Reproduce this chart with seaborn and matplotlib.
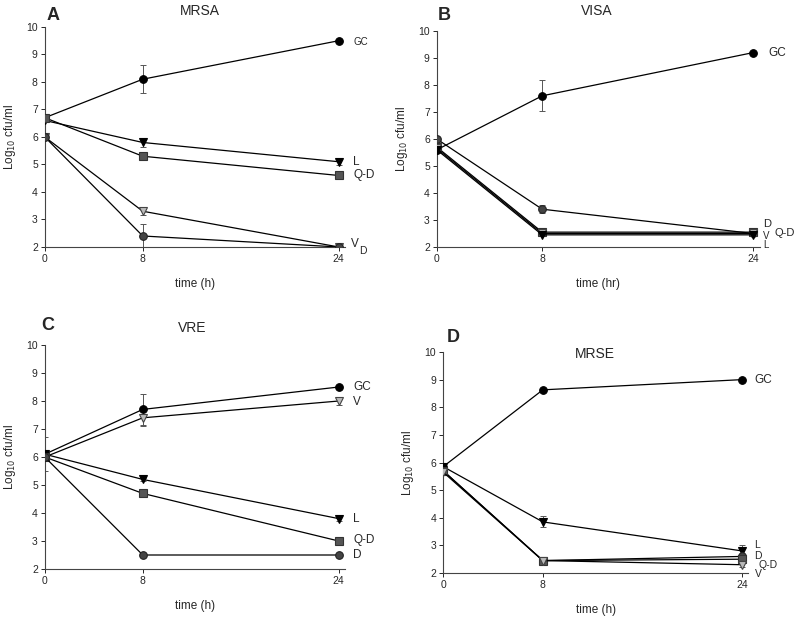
import matplotlib
matplotlib.use("Agg")
import matplotlib.pyplot as plt
import seaborn as sns
import pandas as pd

sns.set_theme(style="ticks")
plt.rcParams['font.family'] = ['Liberation Sans', 'DejaVu Sans']

times = [0, 8, 24]

# Panel A - MRSA
mrsa_gc = [6.7, 8.1, 9.5];   mrsa_gc_err = [0, 0.5, 0.05]
mrsa_l = [6.6, 5.8, 5.1];    mrsa_l_err = [0, 0.15, 0.12]
mrsa_qd = [6.7, 5.3, 4.6];   mrsa_qd_err = [0, 0.08, 0.05]
mrsa_v = [6.0, 3.3, 2.0];    mrsa_v_err = [0, 0.15, 0.03]
mrsa_d = [6.0, 2.4, 2.0];    mrsa_d_err = [0, 0.42, 0.03]

# Panel B - VISA
visa_gc = [5.6, 7.6, 9.2];   visa_gc_err = [0, 0.57, 0.03]
visa_d = [6.0, 3.4, 2.5];    visa_d_err = [0, 0.15, 0.05]
visa_qd = [5.7, 2.55, 2.55]; visa_qd_err = [0, 0.05, 0.05]
visa_v = [5.65, 2.5, 2.5];   visa_v_err = [0, 0.03, 0.03]
visa_l = [5.6, 2.45, 2.45];  visa_l_err = [0, 0.03, 0.05]

# Panel C - VRE
vre_gc = [6.1, 7.7, 8.5];    vre_gc_err = [0.6, 0.55, 0.08]
vre_v = [6.0, 7.4, 8.0];     vre_v_err = [0, 0.3, 0.15]
vre_l = [6.1, 5.2, 3.8];     vre_l_err = [0, 0.05, 0.1]
vre_qd = [6.0, 4.7, 3.0];    vre_qd_err = [0, 0.1, 0.08]
vre_d = [6.0, 2.5, 2.5];     vre_d_err = [0, 0.03, 0.03]

# Panel D - MRSE
mrse_gc = [5.85, 8.63, 9.0]; mrse_gc_err = [0, 0.03, 0.03]
mrse_l = [5.85, 3.85, 2.8];  mrse_l_err = [0, 0.2, 0.22]
mrse_d = [5.7, 2.45, 2.6];   mrse_d_err = [0, 0.05, 0.05]
mrse_qd = [5.7, 2.45, 2.5];  mrse_qd_err = [0, 0.05, 0.05]
mrse_v = [5.65, 2.45, 2.3];  mrse_v_err = [0, 0.03, 0.1]

yticks = [2, 3, 4, 5, 6, 7, 8, 9, 10]
xticks = [0, 8, 24]

styles = {
    'GC': dict(marker='o', mfc='black', mec='black'),
    'L': dict(marker='v', mfc='black', mec='black'),
    'Q-D': dict(marker='s', mfc='#555555', mec='#333333'),
    'V': dict(marker='v', mfc='#bbbbbb', mec='#444444'),
    'D': dict(marker='o', mfc='#444444', mec='#222222'),
}

fig = plt.figure(figsize=(8, 6.17), dpi=100)

panels = [
    dict(letter='A', title='MRSA', rect=[0.056, 0.5997, 0.375, 0.3566], xlabel='time (h)',
         series=[('GC', mrsa_gc, mrsa_gc_err), ('L', mrsa_l, mrsa_l_err), ('Q-D', mrsa_qd, mrsa_qd_err),
                 ('V', mrsa_v, mrsa_v_err), ('D', mrsa_d, mrsa_d_err)],
         labels=[('GC', 25.2, 9.45, 7), ('L', 25.2, 5.1, 8.5), ('Q-D', 25.2, 4.6, 8.5),
                 ('V', 25.0, 2.1, 8.5), ('D', 25.7, 1.85, 7.5)],
         letter_xy=(53, 15), title_xy=(200, 11)),
    dict(letter='B', title='VISA', rect=[0.546, 0.5997, 0.4035, 0.350], xlabel='time (hr)',
         series=[('GC', visa_gc, visa_gc_err), ('D', visa_d, visa_d_err), ('Q-D', visa_qd, visa_qd_err),
                 ('V', visa_v, visa_v_err), ('L', visa_l, visa_l_err)],
         labels=[('GC', 25.2, 9.2, 8.5), ('D', 24.8, 2.85, 8), ('Q-D', 25.6, 2.5, 8),
                 ('V', 24.75, 2.42, 7), ('L', 24.75, 2.08, 7)],
         letter_xy=(444, 16), title_xy=(597, 11)),
    dict(letter='C', title='VRE', rect=[0.056, 0.0778, 0.375, 0.363], xlabel='time (h)',
         series=[('GC', vre_gc, vre_gc_err), ('V', vre_v, vre_v_err), ('L', vre_l, vre_l_err),
                 ('Q-D', vre_qd, vre_qd_err), ('D', vre_d, vre_d_err)],
         labels=[('GC', 25.2, 8.5, 8.5), ('V', 25.2, 7.95, 8.5), ('L', 25.2, 3.8, 8.5),
                 ('Q-D', 25.2, 3.05, 8.5), ('D', 25.2, 2.5, 8.5)],
         letter_xy=(48, 326), title_xy=(192, 328)),
    dict(letter='D', title='MRSE', rect=[0.554, 0.0713, 0.3813, 0.3582], xlabel='time (h)',
         series=[('GC', mrse_gc, mrse_gc_err), ('L', mrse_l, mrse_l_err), ('D', mrse_d, mrse_d_err),
                 ('Q-D', mrse_qd, mrse_qd_err), ('V', mrse_v, mrse_v_err)],
         labels=[('GC', 25.0, 8.97, 8.5), ('L', 25.0, 3.0, 7.5), ('D', 25.0, 2.62, 7.5),
                 ('Q-D', 25.3, 2.28, 7.5), ('V', 25.0, 1.95, 7.5)],
         letter_xy=(453, 337), title_xy=(595, 354)),
]

W, H = 800, 617
for p in panels:
    ax = fig.add_axes(p['rect'])
    for name, vals, errs in p['series']:
        df = pd.DataFrame({'time': times, 'value': vals})
        st = styles[name]
        ax.errorbar(times, vals, yerr=errs, fmt='none', ecolor='#555555', elinewidth=0.7,
                    capsize=2, capthick=0.7, zorder=2)
        sns.lineplot(data=df, x='time', y='value', ax=ax, color='black', linewidth=0.9,
                     marker=st['marker'], markersize=5.5, markerfacecolor=st['mfc'],
                     markeredgecolor=st['mec'], markeredgewidth=0.8, zorder=3)
    for txt, x, y, fs in p['labels']:
        ax.text(x, y, txt, fontsize=fs, va='center', ha='left', clip_on=False)
    ax.set_xlim(0, 24.5)
    ax.set_ylim(2, 10)
    ax.set_xticks(xticks)
    ax.set_yticks(yticks)
    ax.tick_params(labelsize=7.5, length=3, width=0.7, pad=2)
    for s in ['top', 'right']:
        ax.spines[s].set_visible(False)
    for s in ['left', 'bottom']:
        ax.spines[s].set_linewidth(0.8)
        ax.spines[s].set_color('#444444')
    ax.set_xlabel(p['xlabel'], fontsize=8.5, labelpad=10)
    ax.set_ylabel('Log$_{10}$ cfu/ml', fontsize=8.5, labelpad=6)
    fig.text(p['letter_xy'][0] / W, 1 - p['letter_xy'][1] / H, p['letter'], fontsize=13,
             fontweight='bold', ha='center', va='center')
    fig.text(p['title_xy'][0] / W, 1 - p['title_xy'][1] / H, p['title'], fontsize=10,
             ha='center', va='center')

fig.savefig('out.png', dpi=100, facecolor='white')
